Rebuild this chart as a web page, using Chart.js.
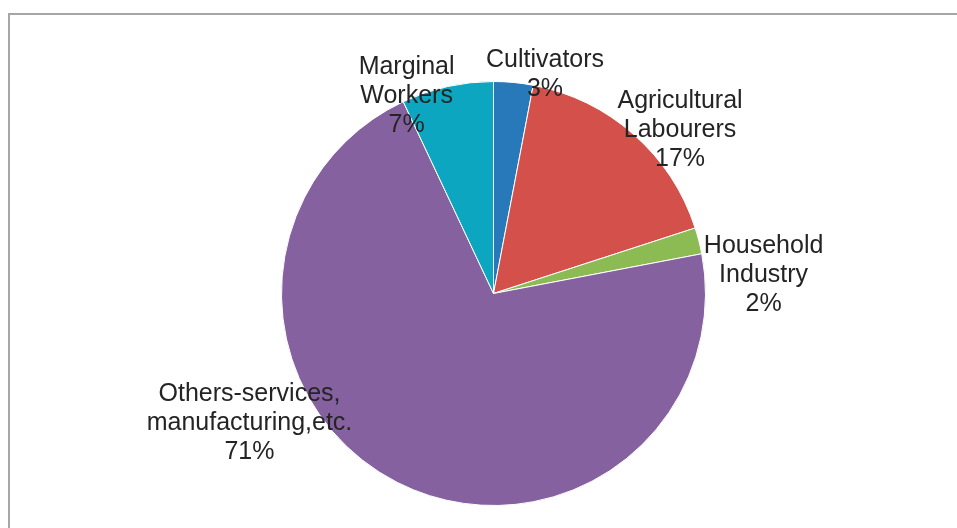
<!DOCTYPE html>
<html>
<head>
<meta charset="utf-8">
<script src="https://cdn.jsdelivr.net/npm/chart.js@4"></script>
<style>
  html, body { margin: 0; padding: 0; background: #fff; }
  canvas { display: block; }
</style>
</head>
<body>
<canvas id="pieCanvas" width="957" height="528"></canvas>
<script>
const categories = [
  ["Cultivators"],
  ["Agricultural", "Labourers"],
  ["Household", "Industry"],
  ["Others-services,", "manufacturing,etc."],
  ["Marginal", "Workers"]
];
const shares = [3, 17, 2, 71, 7];
const colors = ["#2879b9", "#d4504b", "#8cba53", "#8561a0", "#0ca6c1"];

// where each label block sits, in units of the pie radius from its centre
const labelAnchors = [
  [0.243, -1.031],
  [0.880, -0.769],
  [1.274, -0.089],
  [-1.151, 0.613],
  [-0.410, -0.929]
];

/* frame round the plot */
const frame = {
  id: "frame",
  beforeDraw(chart) {
    const ctx = chart.ctx;
    ctx.save();
    ctx.strokeStyle = "#a6a6a6";
    ctx.lineWidth = 2;
    ctx.beginPath();
    ctx.moveTo(9, chart.height + 5);
    ctx.lineTo(9, 14);
    ctx.lineTo(chart.width + 5, 14);
    ctx.stroke();
    ctx.restore();
  }
};

/* category + percent labels */
const sliceLabels = {
  id: "sliceLabels",
  afterDatasetsDraw(chart) {
    const ctx = chart.ctx;
    const arcs = chart.getDatasetMeta(0).data;
    const total = shares.reduce((a, b) => a + b, 0);
    ctx.save();
    ctx.font = "25px 'Liberation Sans', Arial, sans-serif";
    ctx.fillStyle = "#242424";
    ctx.textAlign = "center";
    ctx.textBaseline = "middle";
    arcs.forEach((arc, i) => {
      const r = arc.outerRadius;
      const cx = arc.x + labelAnchors[i][0] * r;
      const cy = arc.y + labelAnchors[i][1] * r;
      const lines = categories[i].concat([Math.round(shares[i] / total * 100) + "%"]);
      const lh = 29;
      lines.forEach((t, k) => {
        ctx.fillText(t, cx, cy + (k - (lines.length - 1) / 2) * lh);
      });
    });
    ctx.restore();
  }
};

new Chart(document.getElementById("pieCanvas"), {
  type: "pie",
  data: {
    labels: categories.map(c => c.join(" ")),
    datasets: [{
      data: shares,
      backgroundColor: colors,
      borderColor: "#ffffff",
      borderWidth: 1
    }]
  },
  options: {
    responsive: false,
    animation: false,
    layout: { padding: { top: 81, bottom: 22, left: 281, right: 251 } },
    plugins: {
      legend: { display: false },
      tooltip: { enabled: false }
    }
  },
  plugins: [frame, sliceLabels]
});
</script>
</body>
</html>
